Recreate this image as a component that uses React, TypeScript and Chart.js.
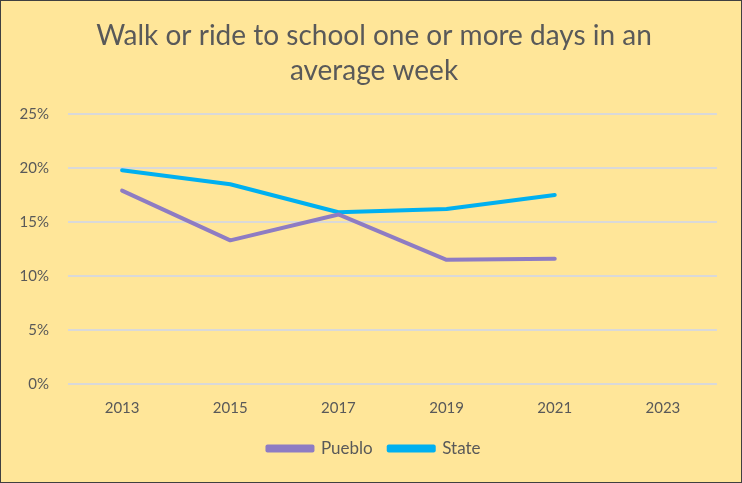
import React, { useEffect, useRef } from "react";
import { Chart, registerables } from "chart.js";

Chart.register(...registerables);

const years = ["2013", "2015", "2017", "2019", "2021", "2023"];
const pueblo = [17.9, 13.3, 15.7, 11.5, 11.6, null];
const state = [19.8, 18.5, 15.9, 16.2, 17.5, null];
const titleLines = ["Walk or ride to school one or more days in an", "average week"];

const widenYLabelArea = {
  id: "widenYLabelArea",
  afterLayout(chart: any) {
    chart.scales.y.left = 0;
  },
};

export default function App() {
  const ref = useRef<HTMLCanvasElement>(null);
  useEffect(() => {
    document.body.style.margin = "0";
    const c = new Chart(ref.current!, {
      type: "line",
      data: {
        labels: years,
        datasets: [
          { label: "Pueblo", data: pueblo, borderColor: "#8E7CC3", backgroundColor: "#8E7CC3", borderWidth: 4, pointRadius: 0, tension: 0, borderCapStyle: "round", borderJoinStyle: "round" },
          { label: "State", data: state, borderColor: "#00B0F0", backgroundColor: "#00B0F0", borderWidth: 4, pointRadius: 0, tension: 0, borderCapStyle: "round", borderJoinStyle: "round" },
        ],
      },
      plugins: [widenYLabelArea],
      options: {
        responsive: false,
        animation: false,
        layout: { padding: { left: 30, right: 24, top: 10, bottom: 15 } },
        plugins: {
          tooltip: { enabled: false },
          title: {
            display: true,
            text: titleLines,
            color: "#595959",
            font: { family: "Lato", size: 28, weight: "normal", lineHeight: 1.25 },
            padding: { top: 7, bottom: 26 },
          },
          legend: {
            position: "bottom",
            labels: {
              color: "#595959",
              font: { family: "Lato", size: 17 },
              boxWidth: 45,
              boxHeight: 4,
              padding: 16,
            },
          },
        },
        scales: {
          x: {
            offset: true,
            grid: { display: false },
            border: { display: false },
            ticks: { color: "#595959", font: { family: "Lato", size: 15 }, padding: 7 },
          },
          y: {
            min: 0,
            max: 25,
            afterFit: (s: any) => { s.width = 37; },
            grid: { color: "#D9D9D9", lineWidth: 2, drawTicks: false },
            border: { display: false },
            ticks: {
              stepSize: 5,
              color: "#595959",
              font: { family: "Lato", size: 15 },
              padding: 19,
              callback: (v: any) => v + "%",
            },
          },
        },
      },
    });
    return () => c.destroy();
  }, []);
  return (
    <div style={{ width: 742, height: 483, boxSizing: "border-box", border: "1px solid #404040", background: "#FFE699" }}>
      <canvas ref={ref} width={740} height={481} />
    </div>
  );
}
